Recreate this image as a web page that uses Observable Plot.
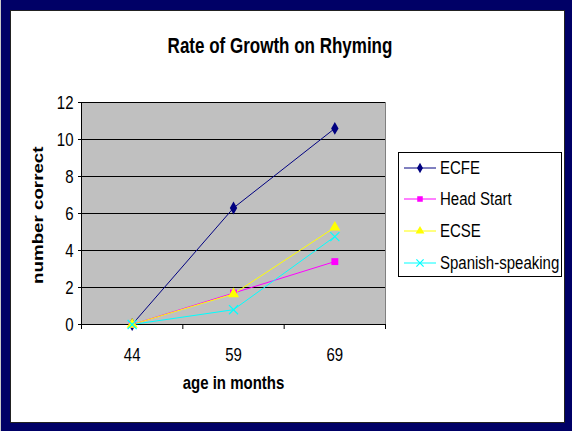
<!DOCTYPE html>
<html>
<head>
<meta charset="utf-8">
<script src="https://cdn.jsdelivr.net/npm/d3@7"></script>
<script src="https://cdn.jsdelivr.net/npm/@observablehq/plot@0.6"></script>
<style>
  body { margin: 0; background: #fff; font-family: "Liberation Sans", Arial, sans-serif; }
  #frame { position: absolute; left: 0; top: 0; width: 572px; height: 431px; background: #000066; overflow: hidden; }
  #edge { position: absolute; left: 0; top: 0; width: 1px; height: 431px; background: #c8c8c8; }
  #area { position: absolute; left: 10px; top: 10px; width: 553px; height: 411px; background: #fff; border: 1px solid #222; }
  #title { position: absolute; left: 0; top: 36px; width: 560px; height: 20px; line-height: 20px; text-align: center;
           font-weight: bold; font-size: 17px; color: #000; }
  #title span { display: inline-block; transform: scaleY(1.3); }
  #chart { position: absolute; left: 0; top: 80px; }
  #legend { position: absolute; left: 398px; top: 152px; width: 162px; height: 123px; border: 1px solid #000; background: #fff; }
  .entry { position: absolute; left: 0; height: 20px; width: 162px; }
  .entry svg { position: absolute; left: 4px; top: 2px; }
  .entry span { position: absolute; left: 41px; top: 0; line-height: 20px; font-size: 15px; color: #000; white-space: nowrap;
                display: inline-block; transform: scaleY(1.25); }
</style>
</head>
<body>
<div id="frame">
  <div id="edge"></div>
  <div id="area"></div>
  <div id="title"><span>Rate of Growth on Rhyming</span></div>
  <div id="chart"></div>
  <div id="legend"></div>
</div>
<script>
// ---- data ----
const ages = ["44", "59", "69"];
const seriesNames = ["ECFE", "Head Start", "ECSE", "Spanish-speaking"];
const ecfe = [0, 6.3, 10.6];
const headStart = [0, 1.7, 3.4];
const ecse = [0, 1.65, 5.25];
const spanish = [0, 0.8, 4.75];
const yTicks = [0, 2, 4, 6, 8, 10, 12];
const colors = ["#000080", "#FF00FF", "#FFFF00", "#00FFFF"];
const symbols = ["diamond", "square", "triangle", "times"];
const titleText = "Rate of Growth on Rhyming";
const xLabel = "age in months";
const yLabel = "number correct";

const seriesValues = [ecfe, headStart, ecse, spanish];
const series = seriesNames.map((name, s) => ({
  name, color: colors[s], symbol: symbols[s],
  rows: seriesValues[s].map((v, i) => ({ i, value: v, name }))
}));

const sizes = { diamond: 3.9, square: 3.9, triangle: 4.1, times: 4.2 };

const marks = [
  Plot.frame({ fill: "#c0c0c0", stroke: null }),
  Plot.gridY({ ticks: yTicks, stroke: "#000", strokeOpacity: 1, strokeWidth: 1 }),
  Plot.ruleX([2.5], { stroke: "#808080", strokeWidth: 1 }),
  Plot.ruleX([-0.5], { stroke: "#000", strokeWidth: 1 }),
  Plot.ruleY([0], { stroke: "#000", strokeWidth: 1 }),
  Plot.axisY({ ticks: yTicks, tickSize: 3, tickPadding: 5, label: null, fontSize: 15, stroke: "#000", strokeOpacity: 1 }),
  Plot.axisX({ ticks: [-0.5, 0.5, 1.5, 2.5], tickSize: 5, tickFormat: () => "", label: null, stroke: "#000", strokeOpacity: 1 }),
  Plot.axisX({ ticks: [0, 1, 2], tickSize: 0, tickPadding: 24, tickFormat: i => ages[i], label: null, fontSize: 15 })
];
for (const s of series) {
  marks.push(Plot.line(s.rows, { x: "i", y: "value", stroke: s.color, strokeWidth: 1 }));
}
for (const s of series) {
  const filled = s.symbol !== "times";
  marks.push(Plot.dot(s.rows, {
    x: "i", y: "value", symbol: s.symbol, r: sizes[s.symbol],
    fill: filled ? s.color : "none", stroke: filled ? "none" : s.color, strokeWidth: 1.2
  }));
}
marks.push(Plot.text([xLabel], { text: d => d, frameAnchor: "bottom", dy: 63, fontWeight: "bold", fontSize: 15, fill: "#000" }));
marks.push(Plot.text([yLabel], { text: d => d, frameAnchor: "left", dx: -43, rotate: -90, fontWeight: "bold", fontSize: 15, fill: "#000" }));

const chart = Plot.plot({
  width: 400, height: 340,
  marginLeft: 81, marginRight: 15, marginTop: 22, marginBottom: 96,
  x: { type: "linear", domain: [-0.5, 2.5] },
  y: { domain: [0, 12] },
  style: { background: "transparent", fontFamily: "'Liberation Sans', Arial, sans-serif", fontSize: "15px", color: "#000", overflow: "visible" },
  marks
});
document.getElementById("chart").appendChild(chart);

// vertical stretch of text, as in the reference
function stretchTexts(svg, k) {
  svg.querySelectorAll("text").forEach(t => {
    const r = t.getBoundingClientRect();
    if (!r.height) return;
    const sy = r.top + r.height / 2;
    const m = t.parentNode.getScreenCTM().inverse();
    const p = new DOMPoint(0, sy).matrixTransform(m);
    const cy = p.y;
    const old = t.getAttribute("transform") || "";
    t.setAttribute("transform", `translate(0,${cy}) scale(1,${k}) translate(0,${-cy}) ${old}`);
  });
}
stretchTexts(chart, 1.25);

// keep the rotated axis title centred beside the plot area
(function centreYLabel() {
  const t = Array.from(chart.querySelectorAll("text")).find(e => e.textContent === yLabel);
  if (!t) return;
  const frameRect = chart.querySelector("[aria-label=frame] rect, [aria-label=frame]").getBoundingClientRect();
  const r = t.getBoundingClientRect();
  const wantY = frameRect.top + frameRect.height / 2 + 1.5;
  const wantX = frameRect.left - 43;
  const dx = wantX - (r.left + r.width / 2);
  const dy = wantY - (r.top + r.height / 2);
  t.setAttribute("transform", `translate(${dx},${dy}) ` + (t.getAttribute("transform") || ""));
})();

// legend
const symMap = { diamond: d3.symbolDiamond, square: d3.symbolSquare, triangle: d3.symbolTriangle, times: d3.symbolTimes };
const legend = d3.select("#legend");
const legendTops = [5, 36, 68, 100];
series.forEach((s, k) => {
  const e = legend.append("div").attr("class", "entry").style("top", legendTops[k] + "px");
  const svg = e.append("svg").attr("width", 34).attr("height", 16);
  svg.append("line").attr("x1", 1).attr("x2", 33).attr("y1", 8).attr("y2", 8).attr("stroke", s.color).attr("stroke-width", 1);
  const r = sizes[s.symbol] * 0.8;
  const path = d3.symbol(symMap[s.symbol], Math.PI * r * r)();
  const filled = s.symbol !== "times";
  svg.append("path").attr("d", path).attr("transform", "translate(17,8)")
    .attr("fill", filled ? s.color : "none").attr("stroke", filled ? "none" : s.color).attr("stroke-width", 1.2);
  e.append("span").text(s.name);
});
</script>
</body>
</html>
